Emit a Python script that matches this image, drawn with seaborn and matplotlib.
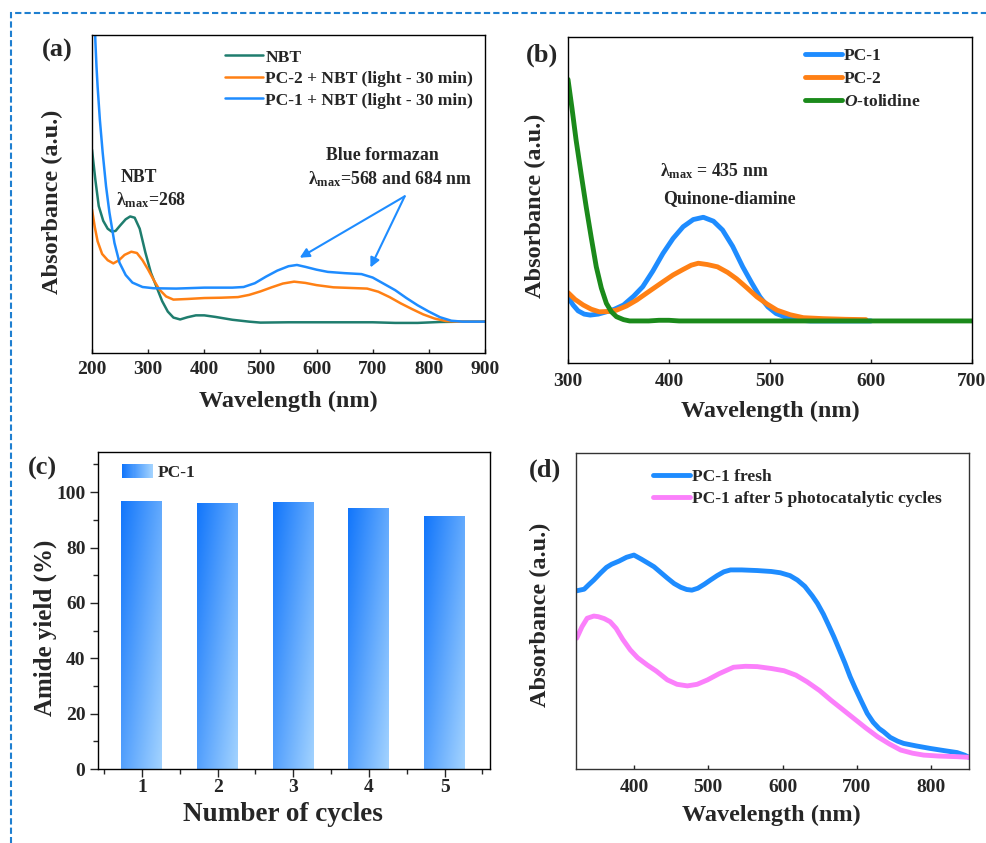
import numpy as np
import pandas as pd
import matplotlib
matplotlib.use("Agg")
import matplotlib.pyplot as plt
import seaborn as sns
from matplotlib.patches import Rectangle
from matplotlib.legend_handler import HandlerBase
from matplotlib.colors import LinearSegmentedColormap
from matplotlib.ticker import MultipleLocator, AutoMinorLocator, NullLocator

# ---------------- data ----------------
# (a) NBT test
a_wl_nbt = [200, 206, 212, 220, 228, 235, 242, 250, 260, 268, 276, 285, 295, 305, 315, 325, 335, 345,
            357, 370, 385, 400, 420, 450, 480, 500, 550, 600, 650, 700, 740, 780, 820, 860, 900]
a_nbt = [0.636, 0.54, 0.457, 0.41, 0.385, 0.376, 0.378, 0.395, 0.415, 0.424, 0.42, 0.385, 0.31, 0.245,
         0.20, 0.155, 0.122, 0.103, 0.097, 0.104, 0.110, 0.110, 0.105, 0.096, 0.090, 0.087, 0.088,
         0.088, 0.088, 0.088, 0.086, 0.086, 0.089, 0.090, 0.090]
a_wl_pc2 = [200, 205, 210, 218, 228, 238, 248, 258, 270, 280, 290, 300, 310, 320, 332, 345, 370, 400,
            430, 460, 480, 500, 520, 540, 560, 580, 600, 630, 660, 690, 710, 730, 750, 770, 790, 810,
            830, 850, 900]
a_pc2 = [0.446, 0.39, 0.345, 0.305, 0.285, 0.275, 0.285, 0.302, 0.312, 0.308, 0.285, 0.255, 0.222,
         0.192, 0.17, 0.16, 0.162, 0.165, 0.166, 0.168, 0.175, 0.186, 0.199, 0.211, 0.217, 0.213,
         0.206, 0.199, 0.197, 0.195, 0.185, 0.168, 0.148, 0.13, 0.113, 0.10, 0.092, 0.09, 0.09]
a_wl_pc1 = [200, 204, 206, 208, 210, 214, 219, 225, 231, 240, 249, 260, 272, 290, 310, 350, 400, 450,
            470, 490, 510, 530, 550, 565, 580, 600, 620, 650, 680, 700, 720, 740, 760, 780, 800, 820,
            840, 860, 900]
a_pc1 = [1.3, 1.1, 0.98, 0.9, 0.836, 0.731, 0.627, 0.52, 0.437, 0.34, 0.277, 0.238, 0.214, 0.2, 0.196,
         0.195, 0.198, 0.198, 0.20, 0.212, 0.233, 0.252, 0.266, 0.27, 0.264, 0.255, 0.248, 0.244,
         0.241, 0.23, 0.21, 0.19, 0.165, 0.142, 0.122, 0.104, 0.093, 0.09, 0.09]

# (b) o-tolidine test
b_wl_tol = [300, 304, 308, 313, 318, 323, 328, 333, 338, 343, 348, 355, 361, 380, 390, 400, 410, 450,
            500, 550, 600, 650, 700]
b_tol = [0.87, 0.78, 0.684, 0.58, 0.479, 0.385, 0.295, 0.23, 0.183, 0.157, 0.142, 0.133, 0.129,
         0.129, 0.131, 0.131, 0.129, 0.129, 0.129, 0.129, 0.129, 0.129, 0.129]
b_wl_pc1 = [300, 305, 310, 316, 322, 330, 338, 346, 355, 365, 374, 384, 394, 404, 414, 424, 434, 444,
            453, 463, 473, 482, 490, 498, 506, 516, 526, 540, 560, 600]
b_pc1 = [0.203, 0.178, 0.160, 0.150, 0.147, 0.150, 0.157, 0.165, 0.178, 0.205, 0.234, 0.282, 0.336,
         0.382, 0.418, 0.440, 0.447, 0.435, 0.408, 0.358, 0.295, 0.245, 0.203, 0.172, 0.152, 0.140,
         0.132, 0.129, 0.129, 0.129]
b_wl_pc2 = [300, 307, 315, 323, 331, 340, 348, 358, 368, 380, 394, 404, 414, 422, 429, 438, 448, 458,
            467, 477, 487, 497, 507, 520, 533, 553, 575, 595]
b_pc2 = [0.216, 0.195, 0.178, 0.165, 0.157, 0.158, 0.162, 0.175, 0.193, 0.219, 0.249, 0.270, 0.287,
         0.300, 0.306, 0.302, 0.295, 0.278, 0.258, 0.231, 0.203, 0.181, 0.162, 0.148, 0.139, 0.136,
         0.134, 0.133]

# (c) recycling
cycles = [1, 2, 3, 4, 5]
amide_yield = [96.9, 95.9, 96.4, 94.1, 91.3]

# (d) UV-vis of catalyst
d_wl_fresh = [323, 333, 340, 346, 355, 363, 370, 380, 390, 400, 410, 420, 427, 436, 445, 454, 463, 471,
              478, 486, 495, 503, 512, 521, 530, 545, 566, 585, 597, 610, 620, 630, 640, 647, 655, 662,
              669, 676, 684, 691, 698, 706, 714, 722, 730, 736, 745, 755, 763, 780, 799, 818, 835, 845,
              851]
d_fresh = [0.564, 0.569, 0.585, 0.598, 0.620, 0.638, 0.648, 0.658, 0.670, 0.677, 0.664, 0.650, 0.640,
           0.622, 0.604, 0.587, 0.575, 0.568, 0.566, 0.572, 0.585, 0.598, 0.612, 0.624, 0.630, 0.630,
           0.628, 0.625, 0.621, 0.612, 0.598, 0.578, 0.548, 0.524, 0.49, 0.455, 0.419, 0.38, 0.335,
           0.292, 0.255, 0.215, 0.176, 0.148, 0.128, 0.118, 0.100, 0.088, 0.081, 0.073, 0.065, 0.058,
           0.052, 0.044, 0.037]
d_wl_used = [323, 330, 337, 346, 352, 360, 368, 376, 385, 395, 405, 418, 430, 445, 458, 472, 485, 499,
             515, 534, 550, 566, 585, 602, 618, 633, 650, 665, 680, 696, 712, 728, 744, 759, 775, 790,
             810, 835, 851]
d_used = [0.414, 0.45, 0.477, 0.484, 0.482, 0.476, 0.466, 0.445, 0.41, 0.377, 0.352, 0.329, 0.31,
          0.282, 0.268, 0.263, 0.268, 0.282, 0.302, 0.322, 0.325, 0.324, 0.318, 0.311, 0.297, 0.276,
          0.248, 0.218, 0.19, 0.160, 0.130, 0.102, 0.079, 0.060, 0.050, 0.044, 0.041, 0.039, 0.037]

# ---------------- style ----------------
sns.set_theme(style="ticks")
plt.rcParams["font.family"] = ["Liberation Serif", "DejaVu Serif"]
plt.rcParams["font.weight"] = "bold"
plt.rcParams["axes.labelweight"] = "bold"
plt.rcParams["mathtext.fontset"] = "custom"
plt.rcParams["mathtext.rm"] = "Liberation Serif:bold"
plt.rcParams["mathtext.bf"] = "Liberation Serif:bold"
plt.rcParams["mathtext.it"] = "Liberation Serif:italic:bold"

C_TEAL = "#1f7d6e"
C_ORANGE = "#ff8014"
C_BLUE = "#1e8cff"
C_GREEN = "#1b8a1b"
C_PINK = "#fb80fb"
TICK_FS = 14
LAB_FS = 17.5
LEG_FS = 12.6
ANN_FS = 12.8
PANEL_FS = 19

W, H = 986, 843
fig = plt.figure(figsize=(W / 100, H / 100), dpi=100)


def ax_px(left, top, right, bottom):
    return fig.add_axes([left / W, 1 - bottom / H, (right - left) / W, (bottom - top) / H])


def style_spines(ax, color="black"):
    for s in ax.spines.values():
        s.set_visible(True)
        s.set_color(color)
        s.set_linewidth(1.0)


def set_labels(ax, xl, yl, xc, yc, fs=LAB_FS, yfs=None):
    ax.set_xlabel(xl, fontsize=fs, fontweight="bold", va="center")
    ax.set_ylabel(yl, fontsize=yfs or fs, fontweight="bold", va="center")
    ax.xaxis.set_label_coords(*xc)
    ax.yaxis.set_label_coords(*yc)


# ---------------- (a) ----------------
axA = ax_px(92, 35, 485, 353)
sns.lineplot(x=a_wl_nbt, y=a_nbt, ax=axA, color=C_TEAL, lw=1.8, label="NBT")
sns.lineplot(x=a_wl_pc2, y=a_pc2, ax=axA, color=C_ORANGE, lw=1.8, label="PC-2 + NBT (light - 30 min)")
sns.lineplot(x=a_wl_pc1, y=a_pc1, ax=axA, color=C_BLUE, lw=1.8, label="PC-1 + NBT (light - 30 min)")
axA.set_xlim(200, 900)
axA.set_ylim(-0.0095, 1)
axA.xaxis.set_major_locator(MultipleLocator(100))
axA.yaxis.set_major_locator(NullLocator())
axA.tick_params(axis="x", direction="in", length=3, width=1, pad=6, labelsize=TICK_FS)
style_spines(axA)
axA.legend(loc="upper left", bbox_to_anchor=(0.338, 0.955), frameon=False, fontsize=LEG_FS,
           handlelength=2.2, handletextpad=0.12, labelspacing=0.3, borderpad=0, borderaxespad=0)
set_labels(axA, "Wavelength (nm)", "Absorbance (a.u.)", (0.5, -0.153), (-0.1, 0.475))
axA.text(284, 0.549, "NBT", ha="center", va="center", fontsize=ANN_FS)
axA.text(306, 0.475, "λ$_{\\rm max}$=268", ha="center", va="center", fontsize=ANN_FS)
axA.text(717, 0.616, "Blue formazan", ha="center", va="center", fontsize=ANN_FS)
axA.text(731, 0.542, "λ$_{\\rm max}$=568 and 684 nm", ha="center", va="center", fontsize=ANN_FS)
for tgt in [(570, 0.293), (696, 0.262)]:
    axA.annotate("", xy=tgt, xytext=(757, 0.488),
                 arrowprops=dict(arrowstyle="-|>", color=C_BLUE, lw=1.5, mutation_scale=14,
                                 shrinkA=0, shrinkB=0))
fig.text(57 / W, 1 - 50 / H, "(a)", ha="center", va="center", fontsize=PANEL_FS, fontweight="bold")

# ---------------- (b) ----------------
axB = ax_px(568, 37, 972, 363)
sns.lineplot(x=b_wl_pc1, y=b_pc1, ax=axB, color=C_BLUE, lw=3.5, label="PC-1")
sns.lineplot(x=b_wl_pc2, y=b_pc2, ax=axB, color=C_ORANGE, lw=3.5, label="PC-2")
sns.lineplot(x=b_wl_tol, y=b_tol, ax=axB, color=C_GREEN, lw=3.5, label="$\\mathit{O}$-tolidine")
axB.set_xlim(300, 700)
axB.set_ylim(0, 1)
axB.xaxis.set_major_locator(MultipleLocator(100))
axB.yaxis.set_major_locator(NullLocator())
axB.tick_params(axis="x", direction="in", length=3, width=1, pad=7, labelsize=TICK_FS)
style_spines(axB)
axB.legend(loc="upper left", bbox_to_anchor=(0.587, 0.966), frameon=False, fontsize=LEG_FS,
           handlelength=2.1, handletextpad=0.1, labelspacing=0.38, borderpad=0, borderaxespad=0)
set_labels(axB, "Wavelength (nm)", "Absorbance (a.u.)", (0.502, -0.15), (-0.08, 0.4825))
axB.text(445, 0.59, "λ$_{\\rm max}$ = 435 nm", ha="center", va="center", fontsize=ANN_FS)
axB.text(460, 0.506, "Quinone-diamine", ha="center", va="center", fontsize=ANN_FS)
fig.text(542 / W, 1 - 55 / H, "(b)", ha="center", va="center", fontsize=PANEL_FS, fontweight="bold")

# ---------------- (c) ----------------
axC = ax_px(98, 452, 490, 769)
sns.barplot(x=cycles, y=amide_yield, ax=axC, native_scale=True, width=0.54, color="#4d9dff",
            linewidth=0)
grad_cmap = LinearSegmentedColormap.from_list("g", ["#1276fb", "#a3d3ff"])
gx, gy = np.meshgrid(np.linspace(0, 1, 60), np.linspace(0, 1, 200))
grad = 0.55 * gx + 0.45 * gy  # row 0 drawn at top with origin='upper'
for bar in list(axC.patches):
    x0, y0 = bar.get_x(), bar.get_y()
    bw, bh = bar.get_width(), bar.get_height()
    im = axC.imshow(grad, cmap=grad_cmap, vmin=0, vmax=1, extent=(x0, x0 + bw, y0, y0 + bh),
                    aspect="auto", origin="upper", zorder=bar.get_zorder() + 0.1, interpolation="bilinear")
    im.set_clip_path(bar)
axC.set_xlim(0.42, 5.6)
axC.set_ylim(0, 114.5)
axC.set_xticks(cycles)
axC.xaxis.set_minor_locator(AutoMinorLocator(2))
axC.yaxis.set_major_locator(MultipleLocator(20))
axC.yaxis.set_minor_locator(AutoMinorLocator(2))
axC.tick_params(axis="both", which="major", direction="out", length=6, width=1, labelsize=14)
axC.tick_params(axis="both", which="minor", direction="out", length=3.5, width=1)
axC.tick_params(axis="x", which="major", pad=1)
axC.tick_params(axis="y", which="major", pad=3)
style_spines(axC)


class GradHandler(HandlerBase):
    def create_artists(self, legend, orig_handle, xdescent, ydescent, width, height, fontsize, trans):
        n = 30
        arts = []
        for i in range(n):
            r = Rectangle((-xdescent + i * width / n, -ydescent), width / n * 1.08, height,
                          facecolor=grad_cmap(i / (n - 1)), edgecolor="none", transform=trans)
            arts.append(r)
        return arts


proxy = Rectangle((0, 0), 1, 1)
axC.legend([proxy], ["PC-1"], handler_map={Rectangle: GradHandler()}, loc="upper left",
           bbox_to_anchor=(0.061, 0.962), frameon=False, fontsize=LEG_FS, handlelength=1.8,
           handleheight=0.85, handletextpad=0.25, borderpad=0, borderaxespad=0)
set_labels(axC, "Number of cycles", "Amide yield (%)", (0.472, -0.145), (-0.135, 0.445), fs=19.5, yfs=18)
fig.text(42 / W, 1 - 468 / H, "(c)", ha="center", va="center", fontsize=PANEL_FS, fontweight="bold")

# ---------------- (d) ----------------
axD = ax_px(576, 453, 969, 769)
sns.lineplot(x=d_wl_fresh, y=d_fresh, ax=axD, color=C_BLUE, lw=3.5, label="PC-1 fresh")
sns.lineplot(x=d_wl_used, y=d_used, ax=axD, color=C_PINK, lw=3.5,
             label="PC-1 after 5 photocatalytic cycles")
axD.set_xlim(322, 851)
axD.set_ylim(0, 1)
axD.xaxis.set_major_locator(MultipleLocator(100))
axD.yaxis.set_major_locator(NullLocator())
axD.tick_params(axis="x", direction="in", length=3, width=1, pad=7, labelsize=TICK_FS)
style_spines(axD, "#333333")
axD.legend(loc="upper left", bbox_to_anchor=(0.196, 0.95), frameon=False, fontsize=LEG_FS,
           handlelength=2.1, handletextpad=0.1, labelspacing=0.32, borderpad=0, borderaxespad=0)
set_labels(axD, "Wavelength (nm)", "Absorbance (a.u.)", (0.498, -0.146), (-0.09, 0.487))
fig.text(545 / W, 1 - 470 / H, "(d)", ha="center", va="center", fontsize=PANEL_FS, fontweight="bold")

# ---------------- dashed frame ----------------
fig.add_artist(Rectangle((11 / W, -0.05), 1.2, (1 - 13 / H) + 0.05, transform=fig.transFigure,
                         fill=False, edgecolor="#1f7fd0", lw=1.5, ls=(0, (3, 1.5)), clip_on=False))

fig.savefig("out.png", dpi=100)
